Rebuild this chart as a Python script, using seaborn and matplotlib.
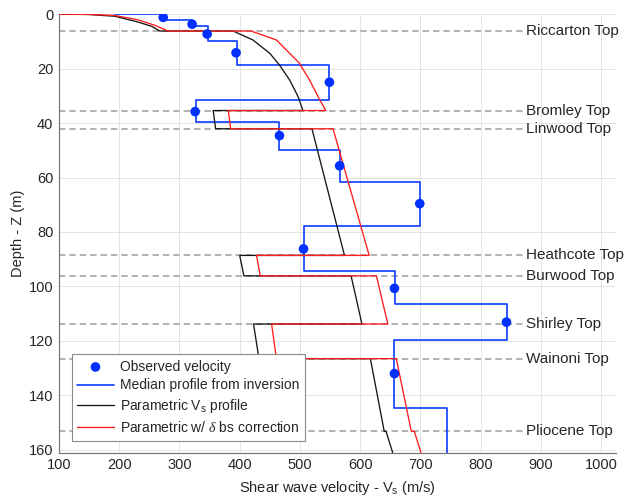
import pandas as pd
import matplotlib
matplotlib.use("Agg")
import matplotlib.pyplot as plt
import seaborn as sns

# Formation tops (depth, m)
formations = ["Riccarton Top", "Bromley Top", "Linwood Top", "Heathcote Top",
              "Burwood Top", "Shirley Top", "Wainoni Top", "Pliocene Top"]
formation_depth = [6.2, 35.4, 42.1, 88.6, 96.1, 113.8, 126.5, 153.2]

# Observed shear-wave velocities
obs_vs = [273, 321, 346, 394, 549, 326, 466, 566, 699, 506, 657, 843, 657]
obs_depth = [1.2, 3.7, 7.3, 14.2, 25.0, 35.8, 44.6, 55.7, 69.6, 86.2, 100.7, 113.1, 132.0]

# Median profile from inversion: layer velocity and layer top depth
median_vs = [193, 273, 321, 347, 395, 549, 327, 466, 566, 699, 506, 658, 844, 657, 744]
median_top = [0.0, 0.0, 2.1, 4.5, 9.8, 18.7, 31.5, 39.7, 49.8, 61.5, 77.7, 94.4, 106.6, 119.8, 144.5]
profile_base = 161.0

# Parametric Vs profile (vertices of the drawn path)
param_vs = [100, 150, 193, 231, 254, 267,
            389, 422, 450, 466, 483, 497, 505,
            356, 360,
            520, 574,
            400, 407,
            585, 603,
            423, 432,
            617, 640,
            643, 654]
param_depth = [0.0, 0.15, 0.8, 2.9, 4.5, 6.2,
               6.2, 9.5, 14.4, 18.7, 24.2, 30.3, 35.4,
               35.4, 42.1,
               42.1, 88.6,
               88.6, 96.1,
               96.1, 113.8,
               113.8, 126.5,
               126.5, 153.2,
               153.2, 161.0]

# Parametric profile with delta-bs correction
corr_vs = [100, 150, 193, 231, 259, 281,
           419, 461, 499, 516, 533, 543,
           381, 385,
           555, 615,
           428, 434,
           627, 646,
           453, 461,
           660, 685,
           690, 701]
corr_depth = [0.0, 0.1, 0.5, 2.1, 4.1, 6.2,
              6.2, 9.5, 18.0, 24.2, 31.5, 35.4,
              35.4, 42.1,
              42.1, 88.6,
              88.6, 96.1,
              96.1, 113.8,
              113.8, 126.5,
              126.5, 153.2,
              153.2, 161.0]

# Stair-step path for the layered median profile
bottoms = median_top[1:] + [profile_base]
step_vs, step_depth = [], []
for v, top, bot in zip(median_vs, median_top, bottoms):
    step_vs += [v, v]
    step_depth += [top, bot]

df_median = pd.DataFrame({"vs": step_vs, "depth": step_depth})
df_param = pd.DataFrame({"vs": param_vs, "depth": param_depth})
df_corr = pd.DataFrame({"vs": corr_vs, "depth": corr_depth})
df_obs = pd.DataFrame({"vs": obs_vs, "depth": obs_depth})

sns.set_theme(style="white")
plt.rcParams["font.family"] = ["Liberation Sans", "DejaVu Sans"]
plt.rcParams["mathtext.fontset"] = "custom"
plt.rcParams["mathtext.rm"] = "Liberation Sans"
plt.rcParams["mathtext.it"] = "Liberation Serif:italic"

fig = plt.figure(figsize=(6.28, 5.04), dpi=100)
ax = fig.add_axes([0.094, 0.102, 0.887, 0.870])

text_color = "#262626"
axis_color = "#7a7a7a"
blue = "#0a3cff"
red = "#ff1c1c"
black = "#161616"

# Formation boundaries
for name, d in zip(formations, formation_depth):
    ax.plot([100, 871], [d, d], color="#9c9c9c", lw=1.1, ls=(0, (4.2, 2.6)), zorder=1)
    ax.text(876, d, name, ha="left", va="center", fontsize=11, color=text_color, zorder=1)

sns.lineplot(data=df_median, x="vs", y="depth", sort=False, estimator=None,
             color=blue, lw=1.2, ax=ax, zorder=3, label="Median profile from inversion")
sns.lineplot(data=df_param, x="vs", y="depth", sort=False, estimator=None,
             color=black, lw=0.95, ax=ax, zorder=4, label="Parametric V$_{\\rm s}$ profile")
sns.lineplot(data=df_corr, x="vs", y="depth", sort=False, estimator=None,
             color=red, lw=0.95, ax=ax, zorder=5, label="Parametric w/ $\\delta$ bs correction")
sns.scatterplot(data=df_obs, x="vs", y="depth", color="#0030ff", s=48,
                edgecolor="none", ax=ax, zorder=6, label="Observed velocity")

ax.set_xlim(100, 1025)
ax.set_ylim(161, 0)
ax.set_xticks(range(100, 1001, 100))
ax.set_yticks(range(0, 161, 20))
ax.grid(True, color="#e4e4e4", lw=0.7)
ax.set_axisbelow(True)

for side in ("top", "right"):
    ax.spines[side].set_visible(False)
for side in ("left", "bottom"):
    ax.spines[side].set_color(axis_color)
    ax.spines[side].set_linewidth(0.9)

ax.tick_params(axis="both", direction="in", length=4, width=0.8, color=axis_color,
               labelsize=10.5, labelcolor=text_color, pad=4)

ax.set_xlabel("Shear wave velocity - V$_{\\rm s}$ (m/s)", fontsize=10.5, color=text_color, labelpad=5)
ax.set_ylabel("Depth - Z (m)", fontsize=10.5, color=text_color, labelpad=3)

handles, labels = ax.get_legend_handles_labels()
order = ["Observed velocity", "Median profile from inversion",
         "Parametric V$_{\\rm s}$ profile", "Parametric w/ $\\delta$ bs correction"]
hmap = dict(zip(labels, handles))
leg = ax.legend([hmap[k] for k in order], order, loc="lower left",
                bbox_to_anchor=(0.023, 0.027), borderaxespad=0, fontsize=10,
                frameon=True, fancybox=False, framealpha=1, edgecolor="#8a8a8a",
                handlelength=2.6, handletextpad=0.45, labelspacing=0.35, borderpad=0.4)
leg.get_frame().set_linewidth(0.8)
for t in leg.get_texts():
    t.set_color(text_color)
leg.set_zorder(10)

fig.savefig("out.png", dpi=100)
